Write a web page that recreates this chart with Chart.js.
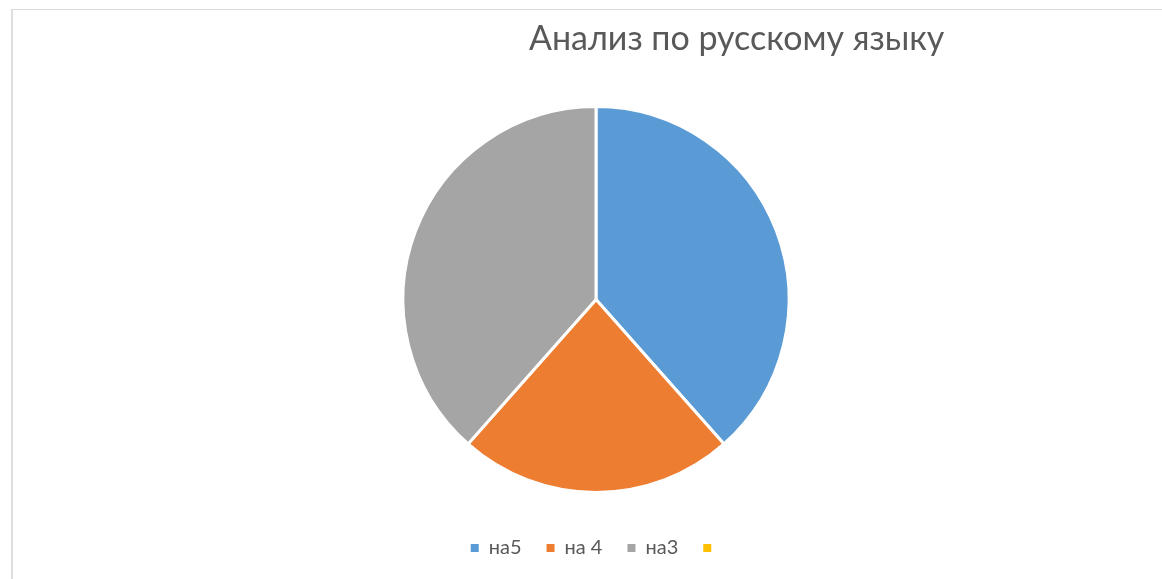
<!DOCTYPE html>
<html>
<head>
<meta charset="utf-8">
<script src="https://cdn.jsdelivr.net/npm/chart.js@4/dist/chart.umd.min.js"></script>
<style>
  html, body { margin: 0; padding: 0; background: #fff; overflow: hidden; }
  #wrap { position: relative; width: 1162px; height: 579px; }
  #frame {
    position: absolute; left: 11px; top: 9px; width: 1200px; height: 620px;
    border-top: 1px solid #d9d9d9; border-left: 2px solid #dedede;
  }
  #title {
    position: absolute; left: 529px; top: 16px; white-space: nowrap;
    font-family: Lato, "Open Sans", sans-serif; font-size: 34px; color: #595959;
  }
  canvas { position: absolute; left: 0; top: 0; }
</style>
</head>
<body>
<div id="wrap">
  <div id="frame"></div>
  <canvas id="chartPie" width="1162" height="579"></canvas>
  <div id="title"></div>
</div>
<script>
var titleText = "Анализ по русскому языку";
var categories = ["на5", "на 4", "на3", ""];
var values = [5, 3, 5, 0];
var colors = ["#5B9BD5", "#ED7D31", "#A5A5A5", "#FFC000"];

var chartPie = null;

function legendLabels(chart) {
  var items = Chart.overrides.pie.plugins.legend.labels.generateLabels(chart);
  return items.map(function(item) {
    item.lineWidth = 0;
    item.strokeStyle = item.fillStyle;
    item.fontColor = "#595959";
    return item;
  });
}

function main() {
  document.getElementById("title").innerText = titleText;
  chartPie = new Chart("chartPie", {
    type: "pie",
    data: {
      labels: categories,
      datasets: [{
        data: values,
        backgroundColor: colors,
        borderColor: "#ffffff",
        borderWidth: 3,
        radius: 193
      }]
    },
    options: {
      responsive: false,
      animation: false,
      devicePixelRatio: 1,
      layout: { padding: { top: 86, bottom: 11, left: 30, right: 0 } },
      plugins: {
        title: { display: false },
        tooltip: { enabled: false },
        legend: {
          display: true,
          position: "bottom",
          labels: {
            boxWidth: 8,
            boxHeight: 8,
            padding: 25,
            color: "#595959",
            font: { family: "Lato, 'Open Sans', sans-serif", size: 20 },
            generateLabels: legendLabels
          }
        }
      }
    }
  });
}

main();
</script>
</body>
</html>
